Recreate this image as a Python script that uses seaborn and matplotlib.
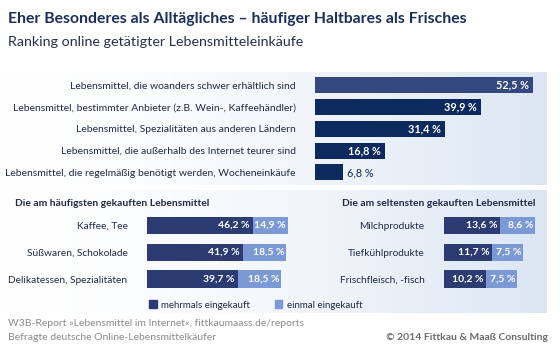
import numpy as np
import pandas as pd
import matplotlib.pyplot as plt
from matplotlib.patches import Patch
import seaborn as sns

# data
top_labels = ['Lebensmittel, die woanders schwer erhältlich sind',
              'Lebensmittel, bestimmter Anbieter (z.B. Wein-, Kaffeehändler)',
              'Lebensmittel, Spezialitäten aus anderen Ländern',
              'Lebensmittel, die außerhalb des Internet teurer sind',
              'Lebensmittel, die regelmäßig benötigt werden, Wocheneinkäufe']
top_values = [52.5, 39.9, 31.4, 16.8, 6.8]

often_labels = ['Kaffee, Tee', 'Süßwaren, Schokolade', 'Delikatessen, Spezialitäten']
often_multi = [46.2, 41.9, 39.7]
often_once = [14.9, 18.5, 18.5]

rare_labels = ['Milchprodukte', 'Tiefkühlprodukte', 'Frischfleisch, -fisch']
rare_multi = [13.6, 11.7, 10.2]
rare_once = [8.6, 7.5, 7.5]

NAVY = '#0d2a5e'
NAVY1 = '#34477e'
DARK = '#2c3c72'
LIGHT = '#7b9ad5'
TXT = '#1f2a44'

sns.set_style('white')
plt.rcParams['font.family'] = ['Lato', 'DejaVu Sans']

fig = plt.figure(figsize=(5.6, 3.5), dpi=100)

# background panels with gradient
bg = fig.add_axes([0, 0, 1, 1])
bg.axis('off')
t = np.linspace(0, 1, 256) ** 1.6
grad = np.ones((1, 256, 3))
for i, c in enumerate((0.86, 0.90, 0.95)):
    grad[0, :, i] = 1 - t * (1 - c)
bg.imshow(grad, extent=(0, 547, 185, 72), aspect='auto')
bg.imshow(grad, extent=(0, 547, 313, 190), aspect='auto')
bg.set_xlim(0, 560)
bg.set_ylim(350, 0)

def fmt(v):
    return f'{v:.1f}'.replace('.', ',') + ' %'

# top ranking
ax = fig.add_axes([315 / 560, 1 - 183.4 / 350, 232 / 560, 109.4 / 350])
df_top = pd.DataFrame({'label': top_labels, 'value': top_values})
sns.barplot(data=df_top, x='value', y='label', hue='label', orient='h',
            palette=[NAVY1] + [NAVY] * 4, width=0.73, legend=False, ax=ax,
            saturation=1, linewidth=0)
ax.set_xlim(0, 232 / 4.15)
for i, v in enumerate(top_values):
    if v > 10:
        ax.text(v - 1.0, i, fmt(v), ha='right', va='center', color='white',
                fontsize=7.8, fontweight='bold')
    else:
        ax.text(v + 1.0, i, fmt(v), ha='left', va='center', color=NAVY,
                fontsize=7.8)

def stacked(ax, labels, multi, once, xmax):
    df = pd.DataFrame({'label': labels, 'multi': multi,
                       'total': [a + b for a, b in zip(multi, once)]})
    sns.barplot(data=df, x='total', y='label', color=LIGHT, saturation=1,
                width=0.65, orient='h', ax=ax, linewidth=0)
    sns.barplot(data=df, x='multi', y='label', color=DARK, saturation=1,
                width=0.65, orient='h', ax=ax, linewidth=0)
    ax.set_xlim(0, xmax)
    pad = xmax * 0.012
    for i, (a, b) in enumerate(zip(multi, once)):
        ax.text(a - pad * 2, i, fmt(a), ha='right', va='center', color='white',
                fontsize=7.5, fontweight='bold')
        ax.text(a + b - pad, i, fmt(b), ha='right', va='center', color='white',
                fontsize=7.5, fontweight='bold')

axl = fig.add_axes([147 / 560, 1 - 292.4 / 350, 153 / 560, 80.3 / 350])
stacked(axl, often_labels, often_multi, often_once, 153 / 2.3)
axr = fig.add_axes([444 / 560, 1 - 292.4 / 350, 103 / 560, 80.3 / 350])
stacked(axr, rare_labels, rare_multi, rare_once, 103 / 4.1)

for a, size in ((ax, 7.5), (axl, 7.3), (axr, 7.3)):
    a.set_facecolor('none')
    sns.despine(ax=a, left=True, bottom=True)
    a.set_xlabel('')
    a.set_ylabel('')
    a.set_xticks([])
    a.tick_params(axis='y', length=0, pad=14, labelsize=size, labelcolor=TXT)

# texts
fig.text(8 / 560, 1 - 19 / 350, 'Eher Besonderes als Alltägliches – häufiger Haltbares als Frisches',
         fontsize=11.3, fontweight='bold', color='#1b2e5c', va='center')
fig.text(8 / 560, 1 - 42 / 350, 'Ranking online getätigter Lebensmitteleinkäufe',
         fontsize=10.3, color='#26304a', va='center')
fig.text(15 / 560, 1 - 204 / 350, 'Die am häufigsten gekauften Lebensmittel',
         fontsize=7.4, fontweight='bold', color=TXT, va='center')
fig.text(536 / 560, 1 - 204 / 350, 'Die am seltensten gekauften Lebensmittel',
         fontsize=7.4, fontweight='bold', color=TXT, va='center', ha='right')

handles = [Patch(color=DARK, label='mehrmals eingekauft'),
           Patch(color=LIGHT, label='einmal eingekauft')]
fig.legend(handles=handles, loc='center left', bbox_to_anchor=(140 / 560, 1 - 305 / 350),
           ncol=2, frameon=False, fontsize=7, handlelength=0.8, handleheight=0.8,
           columnspacing=2.5, handletextpad=0.5, labelcolor=TXT)

fig.text(8 / 560, 1 - 324 / 350, 'W3B-Report »Lebensmittel im Internet«, fittkaumaass.de/reports',
         fontsize=7.5, color='#8a8a8a', va='center')
fig.text(8 / 560, 1 - 337 / 350, 'Befragte deutsche Online-Lebensmittelkäufer',
         fontsize=7.5, color='#8a8a8a', va='center')
fig.text(548 / 560, 1 - 337 / 350, '© 2014 Fittkau & Maaß Consulting',
         fontsize=7.5, color='#6a6a6a', va='center', ha='right', fontweight='bold')

fig.savefig('out.png', dpi=100)
